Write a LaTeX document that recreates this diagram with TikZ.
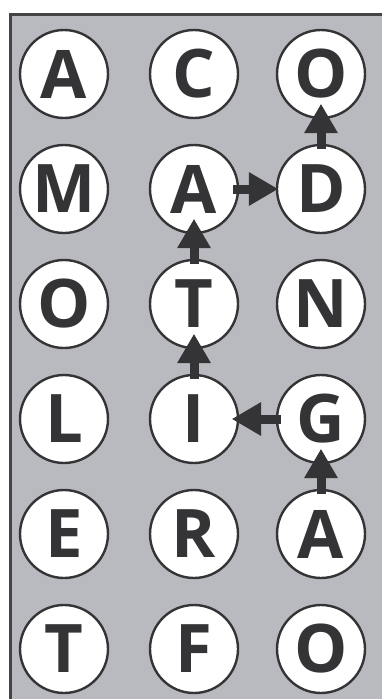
\documentclass[tikz,border=0pt]{standalone}
\usepackage{fontspec}
\setmainfont{Open Sans}
\usetikzlibrary{arrows.meta}
\definecolor{bggrey}{RGB}{185,186,191}
\definecolor{framegrey}{RGB}{68,68,70}
\definecolor{ink}{RGB}{52,52,54}
\tikzset{
  letter/.style={circle, draw=ink, line width=2.4pt, fill=white, minimum size=88pt, inner sep=0pt,
    text=ink, font=\fontsize{67}{67}\bfseries\selectfont},
  arr/.style={draw=ink, line width=9pt, -{Triangle[width=34pt,length=29pt,line width=0pt,fill=ink]}}
}
\begin{document}
\begin{tikzpicture}[x=1pt,y=-1pt]
\useasboundingbox (0,0) rectangle (382,699);
\clip (0,0) rectangle (382,699);
\fill[white] (0,0) rectangle (382,699);
\draw[framegrey, line width=3pt, fill=bggrey] (10.5,14.5) rectangle (400,720);
% row 1
\node[letter] (a1) at (64,74) {A};
\node[letter] (c1) at (194,74) {C};
\node[letter] (o1) at (321,74) {O};
% row 2
\node[letter] (m2) at (64,189) {M};
\node[letter] (a2) at (194,189) {A};
\node[letter] (d2) at (321,189) {D};
% row 3
\node[letter] (o3) at (64,304) {O};
\node[letter] (t3) at (194,304) {T};
\node[letter] (n3) at (321,304) {N};
% row 4
\node[letter] (l4) at (64,419) {L};
\node[letter] (i4) at (194,419) {I};
\node[letter] (g4) at (321,419) {G};
% row 5
\node[letter] (e5) at (64,534) {E};
\node[letter] (r5) at (194,534) {R};
\node[letter] (a5) at (321,534) {A};
% row 6
\node[letter] (t6) at (64,649) {T};
\node[letter] (f6) at (194,649) {F};
\node[letter] (o6) at (321,649) {O};
% arrows
\draw[arr] ([yshift=-5pt]a5.north) -- ([yshift=15pt]g4.south);
\draw[arr] ([xshift=5pt]g4.west) -- ([xshift=-7pt]i4.east);
\draw[arr] ([yshift=-5pt]i4.north) -- ([yshift=15pt]t3.south);
\draw[arr] ([yshift=-5pt]t3.north) -- ([yshift=15pt]a2.south);
\draw[arr] ([xshift=-6pt]a2.east) -- ([xshift=2pt]d2.west);
\draw[arr] ([yshift=-5pt]d2.north) -- ([yshift=15pt]o1.south);
\end{tikzpicture}
\end{document}
